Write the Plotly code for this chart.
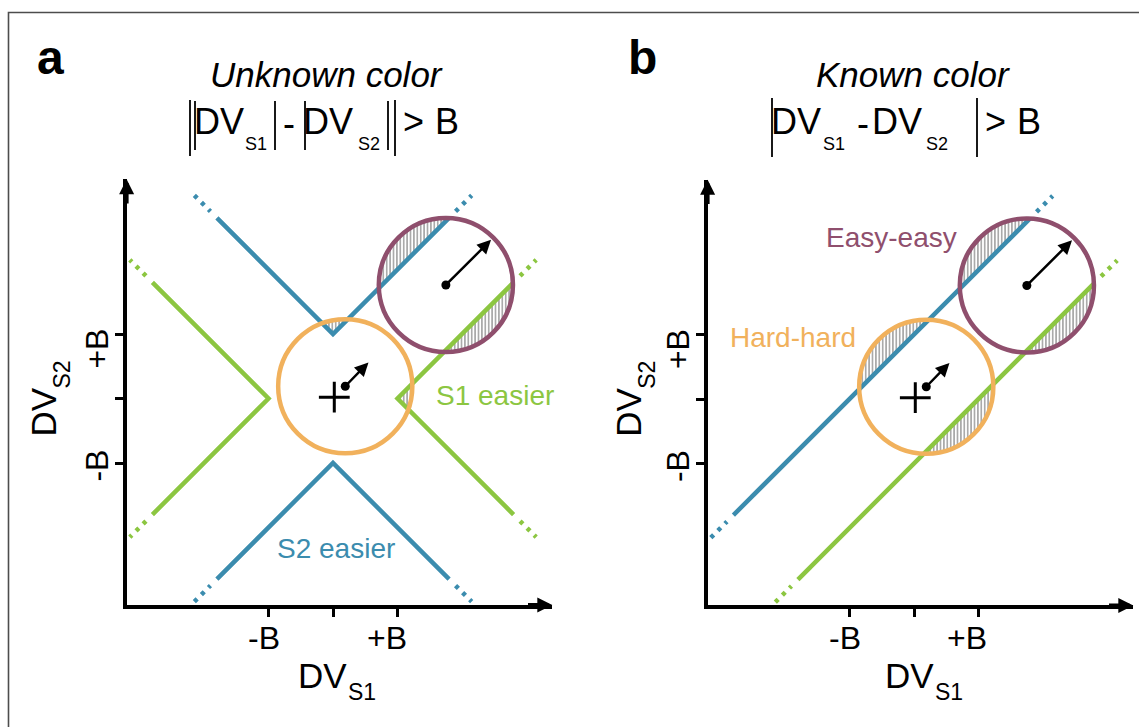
import numpy as np
import plotly.graph_objects as go

W, H = 1139, 727
S = 64.5                      # pixels per unit B
AX_MIN, AX_MAX = -3.2, 3.4    # axis extent in units of B
ORIGIN_A = (333.0, 398.5)     # pixel position of (0, 0) in each panel
ORIGIN_B = (914.0, 399.0)

FONT = "Liberation Sans, Arial, Helvetica, sans-serif"
FONT_NARROW = "Liberation Sans Narrow, Arial Narrow, Liberation Sans, Arial, sans-serif"
BLUE = "#3b8cae"
GREEN = "#8cc641"
ORANGE = "#f1b15c"
PURPLE = "#8f4f6d"
HATCH = "#555555"
LW = 4.5

# ---------------- data (units of B) ----------------
TICK_VALS = [-1, 0, 1]
TICK_LABELS = {-1: "-B", 1: "+B"}

# Panel a: unknown colour, boundaries ||DV_S1| - |DV_S2|| = B
A_BLUE_UP_X = [-1.8, 0.0, 1.8]
A_BLUE_UP_Y = [2.8, 1.0, 2.8]
A_BLUE_LO_X = [-1.8, 0.0, 1.8]
A_BLUE_LO_Y = [-2.8, -1.0, -2.8]
A_GREEN_R_X = [2.8, 1.0, 2.8]
A_GREEN_R_Y = [1.8, 0.0, -1.8]
A_GREEN_L_X = [-2.8, -1.0, -2.8]
A_GREEN_L_Y = [1.8, 0.0, -1.8]
A_BLUE_DOT_X = [[-2.15, -1.9], [1.9, 2.15], [-2.15, -1.9], [1.9, 2.15]]
A_BLUE_DOT_Y = [[3.15, 2.9], [2.9, 3.15], [-3.15, -2.9], [-2.9, -3.15]]
A_GREEN_DOT_X = [[2.9, 3.15], [2.9, 3.15], [-2.9, -3.15], [-2.9, -3.15]]
A_GREEN_DOT_Y = [[1.9, 2.15], [-1.9, -2.15], [1.9, 2.15], [-1.9, -2.15]]

# Panel b: known colour, boundaries |DV_S1 - DV_S2| = B
B_BLUE_X = [-2.8, 1.8]
B_BLUE_Y = [-1.8, 2.8]
B_GREEN_X = [-1.8, 2.8]
B_GREEN_Y = [-2.8, 1.8]
B_BLUE_DOT_X = [[-3.15, -2.9], [1.9, 2.15]]
B_BLUE_DOT_Y = [[-2.15, -1.9], [2.9, 3.15]]
B_GREEN_DOT_X = [[-2.15, -1.9], [2.9, 3.15]]
B_GREEN_DOT_Y = [[-3.15, -2.9], [1.9, 2.15]]

# Evidence distributions (centre, radius) and drift arrows
HARD_C = (0.19, 0.19)
EASY_C = (1.75, 1.76)
RADIUS = 1.04
HARD_TIP = (0.55, 0.56)
EASY_TIP = (2.45, 2.46)
PLUS_XY = (0.02, 0.02)

# half-planes a*x + b*y + c >= 0 defining the "easier" regions
A_S2_REGION = [(-1, 1, -1), (1, 1, -1)]     # y >= |x| + B
A_S1_REGION = [(1, -1, -1), (1, 1, -1)]     # x >= |y| + B
B_S2_REGION = [(-1, 1, -1)]                 # y >= x + B
B_S1_REGION = [(1, -1, -1)]                 # y <= x - B

fig = go.Figure()


def line(x, y, xa, ya, color, dash=None):
    fig.add_trace(go.Scatter(
        x=x, y=y, mode="lines", xaxis=xa, yaxis=ya,
        line=dict(color=color, width=LW, dash=dash),
        hoverinfo="skip", showlegend=False))


def clip(poly, a, b, c):
    out = []
    n = len(poly)
    for i in range(n):
        p, q = poly[i], poly[(i + 1) % n]
        fp = a * p[0] + b * p[1] + c
        fq = a * q[0] + b * q[1] + c
        if fp >= 0:
            out.append(p)
        if (fp >= 0) != (fq >= 0):
            t = fp / (fp - fq)
            out.append((p[0] + t * (q[0] - p[0]), p[1] + t * (q[1] - p[1])))
    return out


def hatch(center, region, xa, ya):
    th = np.linspace(0, 2 * np.pi, 721)[:-1]
    poly = list(zip(center[0] + RADIUS * np.cos(th), center[1] + RADIUS * np.sin(th)))
    for hp in region:
        poly = clip(poly, *hp)
        if not poly:
            return
    xs = [p[0] for p in poly] + [poly[0][0]]
    ys = [p[1] for p in poly] + [poly[0][1]]
    fig.add_trace(go.Scatter(
        x=xs, y=ys, mode="lines", fill="toself", xaxis=xa, yaxis=ya,
        line=dict(width=0, color="rgba(0,0,0,0)"),
        fillcolor="rgba(0,0,0,0)",
        fillpattern=dict(shape="|", size=3.4, solidity=0.5,
                         fgcolor=HATCH, bgcolor="rgba(255,255,255,0)"),
        hoverinfo="skip", showlegend=False))


DOT = "4px,6px"

# ---- panel a ----
for c in (HARD_C, EASY_C):
    hatch(c, A_S2_REGION, "x", "y")
    hatch(c, A_S1_REGION, "x", "y")
line(A_BLUE_UP_X, A_BLUE_UP_Y, "x", "y", BLUE)
line(A_BLUE_LO_X, A_BLUE_LO_Y, "x", "y", BLUE)
line(A_GREEN_R_X, A_GREEN_R_Y, "x", "y", GREEN)
line(A_GREEN_L_X, A_GREEN_L_Y, "x", "y", GREEN)
for xs, ys in zip(A_BLUE_DOT_X, A_BLUE_DOT_Y):
    line(xs, ys, "x", "y", BLUE, DOT)
for xs, ys in zip(A_GREEN_DOT_X, A_GREEN_DOT_Y):
    line(xs, ys, "x", "y", GREEN, DOT)

# ---- panel b ----
for c in (HARD_C, EASY_C):
    hatch(c, B_S2_REGION, "x2", "y2")
    hatch(c, B_S1_REGION, "x2", "y2")
line(B_BLUE_X, B_BLUE_Y, "x2", "y2", BLUE)
line(B_GREEN_X, B_GREEN_Y, "x2", "y2", GREEN)
for xs, ys in zip(B_BLUE_DOT_X, B_BLUE_DOT_Y):
    line(xs, ys, "x2", "y2", BLUE, DOT)
for xs, ys in zip(B_GREEN_DOT_X, B_GREEN_DOT_Y):
    line(xs, ys, "x2", "y2", GREEN, DOT)

annotations = []
for xa, ya in (("x", "y"), ("x2", "y2")):
    # distribution circles
    for c, col in ((HARD_C, ORANGE), (EASY_C, PURPLE)):
        fig.add_shape(type="circle", xref=xa, yref=ya,
                      x0=c[0] - RADIUS, x1=c[0] + RADIUS,
                      y0=c[1] - RADIUS, y1=c[1] + RADIUS,
                      line=dict(color=col, width=LW))
    # origin cross and distribution means
    fig.add_trace(go.Scatter(x=[PLUS_XY[0]], y=[PLUS_XY[1]], mode="markers",
                             xaxis=xa, yaxis=ya, hoverinfo="skip", showlegend=False,
                             marker=dict(symbol="cross-thin", size=22,
                                         line=dict(width=3, color="black"))))
    fig.add_trace(go.Scatter(x=[HARD_C[0], EASY_C[0]], y=[HARD_C[1], EASY_C[1]],
                             mode="markers", xaxis=xa, yaxis=ya, hoverinfo="skip",
                             showlegend=False, marker=dict(size=9, color="black")))
    # drift arrows
    for c, tip in ((HARD_C, HARD_TIP), (EASY_C, EASY_TIP)):
        annotations.append(dict(x=tip[0], y=tip[1], ax=c[0], ay=c[1],
                                xref=xa, yref=ya, axref=xa, ayref=ya, text="",
                                showarrow=True, arrowhead=2, arrowsize=1.1,
                                arrowwidth=2.5, arrowcolor="black", standoff=0))
    # axis arrow heads
    annotations.append(dict(x=AX_MAX, y=AX_MIN, ax=AX_MAX - 0.4, ay=AX_MIN,
                            xref=xa, yref=ya, axref=xa, ayref=ya, text="",
                            showarrow=True, arrowhead=2, arrowsize=0.75,
                            arrowwidth=4, arrowcolor="black", standoff=0))
    annotations.append(dict(x=AX_MIN, y=AX_MAX, ax=AX_MIN, ay=AX_MAX - 0.4,
                            xref=xa, yref=ya, axref=xa, ayref=ya, text="",
                            showarrow=True, arrowhead=2, arrowsize=0.75,
                            arrowwidth=4, arrowcolor="black", standoff=0))
    # tick labels, set beside the axis ticks
    for v, t in TICK_LABELS.items():
        annotations.append(dict(x=v, y=AX_MIN, xref=xa, yref=ya, text=t,
                                showarrow=False, xanchor="center", yanchor="middle",
                                xshift=-4.5 if v < 0 else -11, yshift=-33,
                                font=dict(family=FONT, size=32, color="black")))
        annotations.append(dict(x=AX_MIN, y=v, xref=xa, yref=ya, text=t,
                                showarrow=False, xanchor="center", yanchor="middle",
                                textangle=-90, xshift=-30,
                                yshift=-3 if v < 0 else -15,
                                font=dict(family=FONT, size=32, color="black")))

# region labels
annotations += [
    dict(x=2.51, y=0.04, xref="x", yref="y", text="S1 easier",
         font=dict(family=FONT, size=28, color=GREEN), showarrow=False),
    dict(x=0.05, y=-2.32, xref="x", yref="y", text="S2 easier",
         font=dict(family=FONT, size=28, color=BLUE), showarrow=False),
    dict(x=-0.35, y=2.51, xref="x2", yref="y2", text="Easy-easy",
         font=dict(family=FONT, size=28, color=PURPLE), showarrow=False),
    dict(x=-1.87, y=0.96, xref="x2", yref="y2", text="Hard-hard",
         font=dict(family=FONT, size=28, color=ORANGE), showarrow=False),
]


def px(xp, yp):
    return xp / W, 1 - yp / H


def label(text, xp, yp, size, color="black", angle=0, weight="normal",
          style="normal", family=FONT):
    x, y = px(xp, yp)
    annotations.append(dict(x=x, y=y, xref="paper", yref="paper", text=text,
                            showarrow=False, xanchor="center", yanchor="middle",
                            textangle=angle, borderpad=0, borderwidth=0,
                            font=dict(family=family, size=size, color=color,
                                      weight=weight, style=style)))


def bar(xp, y0, y1):
    x, ya = px(xp, y0)
    _, yb = px(xp, y1)
    fig.add_shape(type="line", xref="paper", yref="paper", x0=x, x1=x, y0=ya, y1=yb,
                  line=dict(color="black", width=1.8))


# panel letters and titles
label("a", 50, 57, 48, weight="bold")
label("b", 642, 57, 48, weight="bold")
label("Unknown color", 326, 75, 35, style="italic")
label("Known color", 913, 75, 35, style="italic")

# ||DV_S1| - |DV_S2|| > B
for xp in (190, 395):
    bar(xp, 100, 156)
for xp in (195, 275, 305, 388):
    bar(xp, 101, 150)
for t, xp, yp, sz in (("DV", 219, 121, 36), ("S1", 256, 143.5, 18), ("-", 289, 123, 36),
                      ("DV", 328.5, 121, 36), ("S2", 368.5, 143.5, 18),
                      (">", 413.5, 121, 36), ("B", 446.5, 121, 36)):
    label(t, xp, yp, sz, family=FONT_NARROW if t == "DV" else FONT)

# |DV_S1 - DV_S2| > B
for xp in (772, 977):
    bar(xp, 98, 157)
for t, xp, yp, sz in (("DV", 796, 121, 36), ("S1", 834, 143.5, 18), ("-", 863, 123, 36),
                      ("DV", 897.5, 121, 36), ("S2", 937, 143.5, 18),
                      (">", 995, 121, 36), ("B", 1028.5, 121, 36)):
    label(t, xp, yp, sz, family=FONT_NARROW if t == "DV" else FONT)

# axis titles
for ox in (0, 585.3):
    label("DV", 42.5 + ox, 412, 35, angle=-90, family=FONT_NARROW)
    label("S2", 61.5 + ox, 375, 23, angle=-90)
for dx in (322.5, 909.5):
    label("DV", dx, 675.5, 35, family=FONT_NARROW)
    label("S1", dx + 39, 691.5, 23)

# outer frame
fig.add_shape(type="rect", xref="paper", yref="paper",
              x0=8.5 / W, x1=1.01, y0=1 - 12.5 / H, y1=-0.01,
              line=dict(color="#4d4d4d", width=1.6))


def dom_x(ox):
    return [(ox + AX_MIN * S) / W, (ox + AX_MAX * S) / W]


def dom_y(oy):
    return [1 - (oy - AX_MIN * S) / H, 1 - (oy - AX_MAX * S) / H]


def axis(dom, anchor):
    return dict(domain=dom, range=[AX_MIN, AX_MAX], anchor=anchor,
                showgrid=False, zeroline=False, showline=True, linewidth=4,
                linecolor="black", ticks="outside", ticklen=8, tickwidth=3,
                tickcolor="black", tickvals=TICK_VALS, showticklabels=False,
                fixedrange=True)


fig.update_layout(
    width=W, height=H, margin=dict(l=0, r=0, t=0, b=0),
    paper_bgcolor="white", plot_bgcolor="white",
    xaxis=axis(dom_x(ORIGIN_A[0]), "y"),
    yaxis=axis(dom_y(ORIGIN_A[1]), "x"),
    xaxis2=axis(dom_x(ORIGIN_B[0]), "y2"),
    yaxis2=axis(dom_y(ORIGIN_B[1]), "x2"),
    annotations=annotations,
    showlegend=False,
)

fig.write_html("out.html")
